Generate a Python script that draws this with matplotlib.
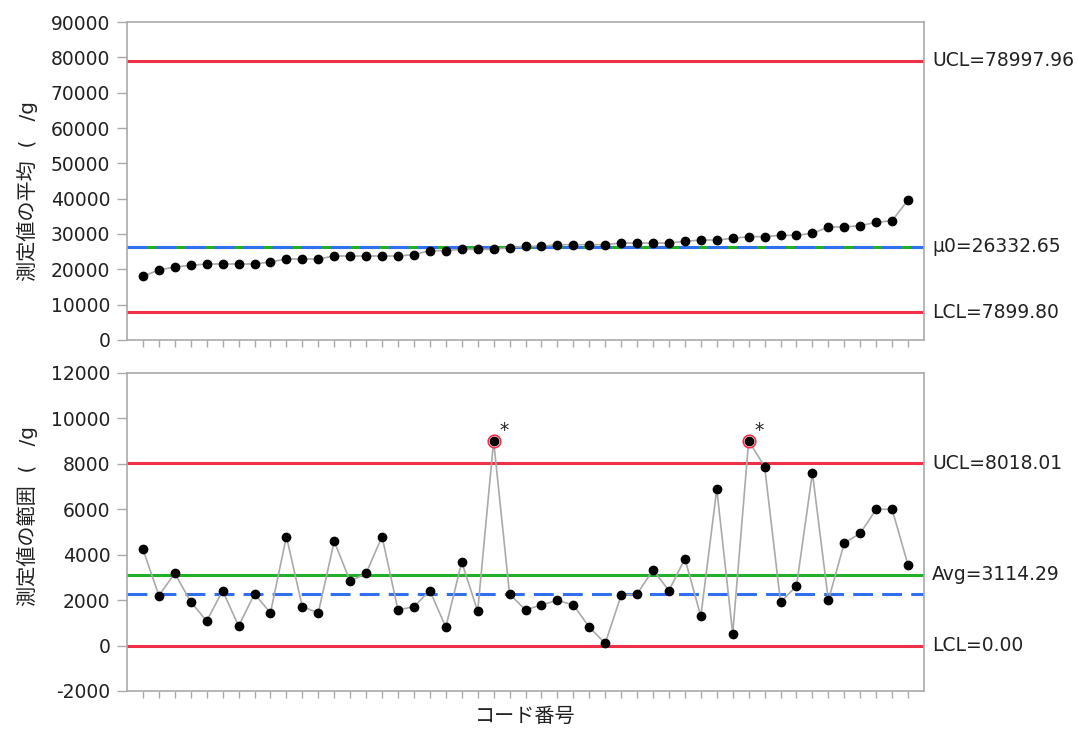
import matplotlib
matplotlib.use("Agg")
import matplotlib.pyplot as plt  # noqa: E402
import matplotlib.transforms as mtransforms  # noqa: E402
import numpy as np  # noqa: E402

# X-bar / R chart data, one sample per code number
codes = np.arange(1, 50)
xbar = [18030, 19810, 20660, 21140, 21510, 21510, 21510, 21510, 22080, 22930,
        22930, 22930, 23780, 23780, 23780, 23780, 23780, 24160, 25290, 25290,
        25660, 25660, 25660, 26130, 26510, 26510, 26980, 26980, 26980, 26980,
        27450, 27450, 27450, 27450, 27920, 28300, 28300, 28770, 29250, 29250,
        29620, 29620, 30190, 31980, 31980, 32360, 33300, 33770, 39630]
ranges = [4240, 2200, 3180, 1920, 1080, 2420, 860, 2270, 1440, 4800,
          1710, 1440, 4590, 2830, 3180, 4800, 1570, 1710, 2420, 810,
          3680, 1510, 9010, 2270, 1570, 1790, 1990, 1790, 810, 100,
          2210, 2270, 3330, 2420, 3830, 1290, 6890, 520, 9010, 7880,
          1920, 2620, 7600, 1990, 4520, 4940, 6000, 6000, 3540]

xbar_ucl, xbar_mu0, xbar_lcl = 78997.96, 26332.65, 7899.80
r_ucl, r_avg, r_lcl = 8018.01, 3114.29, 0.00
r_mu0 = 2270.0

xbar_ticks = list(range(0, 90001, 10000))
r_ticks = list(range(-2000, 12001, 2000))

RED = "#EE3048"
GREEN = "#22B02A"
BLUE = "#3070F0"
GRID = "#AAAAAA"
FS = 13.5
FS_JP = 14.5
JP = ["DejaVu Sans", "Noto Sans CJK JP"]

plt.rcParams["font.family"] = JP
plt.rcParams["axes.unicode_minus"] = False


def style_axes(ax, ylim, yticks):
    ax.set_xlim(0, 50)
    ax.set_ylim(*ylim)
    ax.set_yticks(yticks)
    ax.set_xticks(codes)
    ax.set_xticklabels([])
    for sp in ax.spines.values():
        sp.set_color(GRID)
        sp.set_linewidth(1.2)
    ax.tick_params(axis="y", direction="out", length=7, width=1.0,
                   color=GRID, labelsize=FS, pad=5, labelcolor="#222222")
    ax.tick_params(axis="x", direction="out", length=5, width=1.0,
                   color=GRID)


def right_label(ax, y, text):
    trans = mtransforms.blended_transform_factory(ax.transAxes, ax.transData)
    ax.text(1.0 + 8 / 797, y, text, transform=trans, fontsize=FS,
            va="center", ha="left", color="#222222")


fig = plt.figure(figsize=(10.78, 7.29), dpi=100)
ax1 = fig.add_axes([127 / 1078, 1 - 340 / 729, 797 / 1078, 318 / 729])
ax2 = fig.add_axes([127 / 1078, 1 - 691 / 729, 797 / 1078, 318 / 729])

# X-bar chart
style_axes(ax1, (0, 90000), xbar_ticks)
ax1.axhline(xbar_ucl, color=RED, lw=2.2, zorder=2)
ax1.axhline(xbar_lcl, color=RED, lw=2.2, zorder=2)
ax1.axhline(xbar_mu0, color=GREEN, lw=2.2, zorder=2)
ax1.axhline(xbar_mu0, color=BLUE, lw=2.2, dashes=(6.5, 3), zorder=2.1)
ax1.plot(codes, xbar, color=GRID, lw=1.2, zorder=3)
ax1.plot(codes, xbar, "o", color="black", ms=6, zorder=4)
right_label(ax1, xbar_ucl, f"UCL={xbar_ucl:.2f}")
right_label(ax1, xbar_mu0, f"\u03bc0={xbar_mu0:.2f}")
right_label(ax1, xbar_lcl, f"LCL={xbar_lcl:.2f}")
ax1.set_ylabel("測定値の平均  (   /g", fontsize=FS_JP, color="#222222")
ax1.yaxis.set_label_coords(-0.112, 0.47)

# R chart
style_axes(ax2, (-2000, 12000), r_ticks)
ax2.axhline(r_ucl, color=RED, lw=2.2, zorder=2)
ax2.axhline(r_lcl, color=RED, lw=2.2, zorder=2)
ax2.axhline(r_avg, color=GREEN, lw=2.2, zorder=2)
ax2.axhline(r_mu0, color=BLUE, lw=2.2, dashes=(6.5, 3), zorder=2.1)
ax2.plot(codes, ranges, color=GRID, lw=1.2, zorder=3)
r_arr = np.asarray(ranges)
out = r_arr > r_ucl
ax2.plot(codes[out], r_arr[out], "o", mfc="white", mec=RED, mew=1.2,
         ms=9, zorder=3.5)
ax2.plot(codes, ranges, "o", color="black", ms=6, zorder=4)
for c, v in zip(codes[out], r_arr[out]):
    ax2.annotate("*", (c, v), xytext=(4, 1), textcoords="offset points",
                 fontsize=FS, ha="left", va="bottom", color="#222222")
right_label(ax2, r_ucl, f"UCL={r_ucl:.2f}")
right_label(ax2, r_avg, f"Avg={r_avg:.2f}")
right_label(ax2, r_lcl, f"LCL={r_lcl:.2f}")
ax2.set_ylabel("測定値の範囲  (   /g", fontsize=FS_JP, color="#222222")
ax2.yaxis.set_label_coords(-0.112, 0.55)
ax2.set_xlabel("コード番号", fontsize=FS_JP, labelpad=3, color="#222222")

fig.savefig("out.png", dpi=100, facecolor="white")
